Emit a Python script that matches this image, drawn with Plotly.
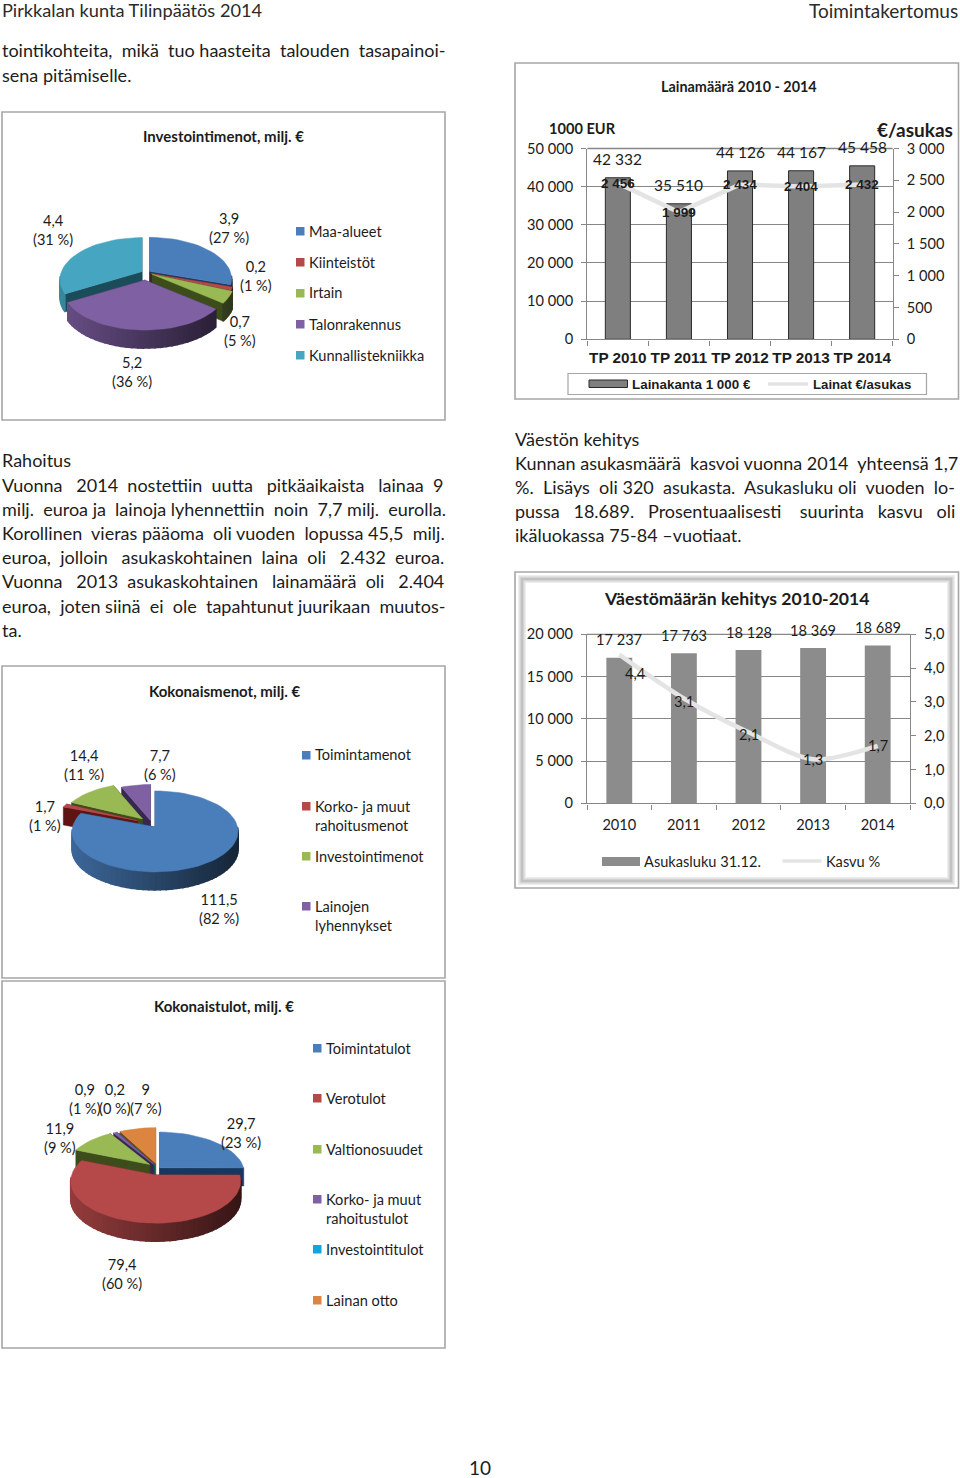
import math
import plotly.graph_objects as go

W, H = 960, 1478
FONT = "Lato"
ARIAL = "Liberation Sans"
INK = "#1c1c1c"

# ---- data -------------------------------------------------------------
loan_cats = ["TP 2010", "TP 2011", "TP 2012", "TP 2013", "TP 2014"]
loan_stock = [42332, 35510, 44126, 44167, 45458]
loan_per_capita = [2456, 1999, 2434, 2404, 2432]
loan_left_ticks = [0, 10000, 20000, 30000, 40000, 50000]
loan_left_text = ["0", "10 000", "20 000", "30 000", "40 000", "50 000"]
loan_right_ticks = [0, 500, 1000, 1500, 2000, 2500, 3000]
loan_right_text = ["0", "500", "1 000", "1 500", "2 000", "2 500", "3 000"]

pop_cats = ["2010", "2011", "2012", "2013", "2014"]
pop_count = [17237, 17763, 18128, 18369, 18689]
pop_growth = [4.4, 3.1, 2.1, 1.3, 1.7]
pop_left_ticks = [0, 5000, 10000, 15000, 20000]
pop_left_text = ["0", "5 000", "10 000", "15 000", "20 000"]
pop_right_ticks = [0, 1, 2, 3, 4, 5]
pop_right_text = ["0,0", "1,0", "2,0", "3,0", "4,0", "5,0"]

inv_names = ["Maa-alueet", "Kiinteistöt", "Irtain", "Talonrakennus", "Kunnallistekniikka"]
inv_values = [3.9, 0.2, 0.7, 5.2, 4.4]
inv_pct = [27, 1, 5, 36, 31]
exp_names = ["Toimintamenot", "Korko- ja muut<br>rahoitusmenot", "Investointimenot", "Lainojen<br>lyhennykset"]
exp_values = [111.5, 1.7, 14.4, 7.7]
exp_pct = [82, 1, 11, 6]
inc_names = ["Toimintatulot", "Verotulot", "Valtionosuudet", "Korko- ja muut<br>rahoitustulot", "Investointitulot", "Lainan otto"]
inc_values = [29.7, 79.4, 11.9, 0.9, 0.2, 9]
inc_pct = [23, 60, 9, 1, 0, 7]

BLUE, RED, GREEN, PURPLE, TEAL = "#4A7EBB", "#B5494A", "#98B954", "#7F60A3", "#46A5C0"
CYAN, ORANGE = "#0FA8DC", "#DB8540"
DARK = {BLUE: "#17375E", RED: "#5E1412", GREEN: "#3C4D1B", PURPLE: "#38284F",
        TEAL: "#1B4C5A", CYAN: "#0A4E66", ORANGE: "#7A4312"}

fig = go.Figure()
annotations, shapes = [], []


def px(x):
    return x / W


def py(y):
    return 1 - y / H


def text(x, y, s, size=14.6, bold=False, anchor="left", family=FONT, color=INK):
    if bold:
        s = "<b>" + s + "</b>"
    annotations.append(dict(xref="paper", yref="paper", x=px(x), y=py(y), text=s, showarrow=False,
                            xanchor=anchor, yanchor="middle", align=anchor, borderpad=0, borderwidth=0,
                            font=dict(family=family, size=size, color=color)))


def justify(s, extra):
    """Widen word gaps with extra non-breaking spaces, evenly spread."""
    words = s.split(" ")
    gaps = len(words) - 1
    out = words[0]
    done = 0
    for i in range(gaps):
        want = round(extra * (i + 1) / gaps)
        out += " " + "\u00a0" * (want - done) + words[i + 1]
        done = want
    return out


def rect(x0, y0, x1, y1, line="#A6A6A6", width=1.6, fill="rgba(0,0,0,0)"):
    shapes.append(dict(type="rect", xref="paper", yref="paper", x0=px(x0), x1=px(x1), y0=py(y0), y1=py(y1),
                       line=dict(color=line, width=width), fillcolor=fill, layer="below"))


def hline(x0, x1, y, color, width, layer="above"):
    shapes.append(dict(type="line", xref="paper", yref="paper", x0=px(x0), x1=px(x1), y0=py(y), y1=py(y),
                       line=dict(color=color, width=width), layer=layer))


def shade(hex_color, f):
    r, g, b = int(hex_color[1:3], 16), int(hex_color[3:5], 16), int(hex_color[5:7], 16)
    return "rgb(%d,%d,%d)" % (r * f, g * f, b * f)


def poly(xs, ys, color, axis_id, lw=0.5):
    fig.add_trace(go.Scatter(x=xs, y=ys, mode="lines", fill="toself", fillcolor=color,
                             line=dict(color=color, width=lw), hoverinfo="skip", showlegend=False,
                             xaxis="x" + axis_id, yaxis="y" + axis_id))


def pie3d(axis_id, values, colors, explode, cx, cy, a, b, depth, lift, box):
    """Extruded, exploded elliptical pie, in an axis pair scaled to unit radius."""
    x0, y0, x1, y1 = box
    fig.layout["xaxis" + axis_id] = dict(domain=[px(x0), px(x1)], range=[(x0 - cx) / a, (x1 - cx) / a],
                                         visible=False, fixedrange=True, automargin=False)
    fig.layout["yaxis" + axis_id] = dict(domain=[py(y1), py(y0)], range=[(cy - y1) / b, (cy - y0) / b],
                                         visible=False, fixedrange=True, automargin=False)
    total = sum(values)
    d = depth / b
    slices, acc = [], 0.0
    for i, v in enumerate(values):
        t0 = acc / total * 2 * math.pi
        acc += v
        t1 = acc / total * 2 * math.pi
        slices.append((t0, t1, colors[i], explode[i]))
    slices.sort(key=lambda s: -math.cos((s[0] + s[1]) / 2))
    for t0, t1, col, e in slices:
        mid = (t0 + t1) / 2
        ox, oy = e * math.sin(mid), e * math.cos(mid)
        ax, ay = ox, oy + lift
        n = max(3, int((t1 - t0) / math.radians(4)))
        arc = [t0 + (t1 - t0) * k / n for k in range(n + 1)]
        ex = [ox + math.sin(t) for t in arc]
        ey = [oy + math.cos(t) for t in arc]
        for px_, py_ in ((ex[0], ey[0]), (ex[-1], ey[-1])):
            poly([ax, px_, px_, ax, ax], [ay, py_, py_ - d, ay - d, ay], DARK[col], axis_id)
        for k in range(n):
            tm = (arc[k] + arc[k + 1]) / 2
            if math.cos(tm) < 0.08:
                xs = ex[k:k + 2]
                ys = ey[k:k + 2]
                xw = xs + xs[::-1] + [xs[0]]
                yw = ys + [v - d for v in ys[::-1]] + [ys[0]]
                f = 0.56 - 0.26 * math.sin(tm)
                poly(xw, yw, shade(col, f), axis_id, lw=1.5)
        poly([ax] + ex + [ax], [ay] + ey + [ay], col, axis_id)


def pie_labels(values, pct, places):
    for v, p, (x, y) in zip(values, pct, places):
        s = ("%g" % v).replace(".", ",")
        text(x, y, "%s<br>(%d %%)" % (s, p), anchor="center")


def pie_legend(names, colors, sx, tx, ys):
    for n, c, y in zip(names, colors, ys):
        shapes.append(dict(type="rect", xref="paper", yref="paper", x0=px(sx), x1=px(sx + 8.5), y0=py(y - 4), y1=py(y + 4.5),
                           line=dict(width=0), fillcolor=c, layer="below"))
        lines = n.count("<br>")
        text(tx, y + lines * 9.6, n)


# ---- page text --------------------------------------------------------
BODY = 18
text(2, 10, "Pirkkalan kunta Tilinpäätös 2014", size=18.2, color="#2a2a2a")
text(958, 10, "Toimintakertomus", size=19, anchor="right", color="#2a2a2a")
for y, s, k in [(50.5, "tointikohteita, mikä tuo haasteita talouden tasapainoi-", 4), (75, "sena pitämiselle.", 0)]:
    text(2, y, justify(s, k), size=BODY)
left_lines = ["Rahoitus",
              "Vuonna 2014 nostettiin uutta pitkäaikaista lainaa 9",
              "milj. euroa ja lainoja lyhennettiin noin 7,7 milj. eurolla.",
              "Korollinen vieras pääoma oli vuoden lopussa 45,5 milj.",
              "euroa, jolloin asukaskohtainen laina oli 2.432 euroa.",
              "Vuonna 2013 asukaskohtainen lainamäärä oli 2.404",
              "euroa, joten siinä ei ole tapahtunut juurikaan muutos-",
              "ta."]
left_extra = [0, 9, 5, 4, 8, 8, 5, 0]
for i, s in enumerate(left_lines):
    text(2, 460.3 + i * 24.2, justify(s, left_extra[i]) if left_extra[i] else s, size=BODY)
right_lines = ["Väestön kehitys",
               "Kunnan asukasmäärä kasvoi vuonna 2014 yhteensä 1,7",
               "%. Lisäys oli 320 asukasta. Asukasluku oli vuoden lo-",
               "pussa 18.689. Prosentuaalisesti suurinta kasvu oli",
               "ikäluokassa 75-84 –vuotiaat."]
right_extra = [0, 2, 6, 11, 0]
for i, s in enumerate(right_lines):
    text(515, 438.5 + i * 24.2, justify(s, right_extra[i]) if right_extra[i] else s, size=BODY)
text(480, 1467, "10", size=19, anchor="center")

# ---- frames -----------------------------------------------------------
rect(2, 112, 445, 420)
rect(2, 666, 445, 978)
rect(2, 981, 445, 1348)
rect(515, 63, 958.5, 399)
rect(515, 572, 958.5, 888)
rect(522, 579, 951, 881, line="#ECECEC", width=8)
rect(522, 579, 951, 881, line="#D8D8D8", width=5)
rect(522, 579, 951, 881, line="#C2C2C2", width=2.5)

# ---- pies -------------------------------------------------------------
inv_colors = [BLUE, RED, GREEN, PURPLE, TEAL]
pie3d("5", inv_values, inv_colors, [0.06, 0.06, 0.08, 0.17, 0.06], 146, 281, 82, 42, 18, 0.19, (40, 225, 250, 360))
text(223, 136, "Investointimenot, milj. €", size=15, bold=True, anchor="center")
pie_labels(inv_values, inv_pct, [(229, 228), (256, 276), (240, 331), (132, 372), (53, 230)])
pie_legend(inv_names, inv_colors, 296, 309, [231, 262, 293, 324, 355])

exp_colors = [BLUE, RED, GREEN, PURPLE]
pie3d("6", exp_values, exp_colors, [0.07, 0.2, 0.18, 0.1], 152, 829, 83, 40.5, 18, 0.11, (40, 770, 260, 900))
text(224.5, 691, "Kokonaismenot, milj. €", size=15, bold=True, anchor="center")
pie_labels(exp_values, exp_pct, [(219, 909), (45, 816), (84, 765), (160, 765)])
pie_legend(exp_names, exp_colors, 302, 315, [755, 806, 856, 906])

inc_colors = [BLUE, RED, GREEN, PURPLE, CYAN, ORANGE]
pie3d("7", inc_values, inc_colors, [0.03, 0.15, 0.14, 0.13, 0.1, 0.13], 158, 1175, 85, 42, 18, 0.15, (50, 1110, 260, 1250))
text(224, 1006, "Kokonaistulot, milj. €", size=15, bold=True, anchor="center")
pie_labels(inc_values, inc_pct, [(241, 1133), (122, 1274), (60, 1138), (85, 1099), (115, 1099), (146, 1099)])
pie_legend(inc_names, inc_colors, 313, 326, [1048, 1098, 1149, 1199, 1249, 1300])

# ---- loan chart -------------------------------------------------------
AX = "#868686"
LINE = "#E4E4E4"
hline(587.3, 892.7, 148.5, AX, 1.3, layer="below")
fig.add_trace(go.Bar(x=loan_cats, y=loan_stock, width=0.41, marker=dict(color="#7F7F7F", line=dict(color="#2b2b2b", width=1)),
                     xaxis="x", yaxis="y", showlegend=False))
fig.add_trace(go.Scatter(x=loan_cats, y=loan_per_capita, mode="lines", line=dict(color=LINE, width=4.5),
                         xaxis="x", yaxis="y2", showlegend=False))
for c, v, r in zip(loan_cats, loan_stock, loan_per_capita):
    annotations.append(dict(xref="x", yref="y", x=c, y=v, yshift=18.5, showarrow=False, text=f"{v:,}".replace(",", " "),
                            font=dict(family=FONT, size=15.5, color=INK)))
    annotations.append(dict(xref="x", yref="y2", x=c, y=r, showarrow=False, text="<b>" + f"{r:,}".replace(",", " ") + "</b>",
                            font=dict(family=ARIAL, size=13.5, color=INK)))
text(582, 129, "1000 EUR", size=14.6, bold=True, anchor="center")
text(915, 129.5, "€/asukas", size=19, bold=True, anchor="center")
text(739, 86, "Lainamäärä 2010 - 2014", size=14.4, bold=True, anchor="center")
rect(568, 373.5, 926.5, 394.5, line="#A6A6A6", width=1.2)
shapes.append(dict(type="rect", xref="paper", yref="paper", x0=px(589), x1=px(627.5), y0=py(380), y1=py(387.5),
                   line=dict(color="#2b2b2b", width=1), fillcolor="#7F7F7F"))
text(631.5, 384, "Lainakanta 1 000 €", size=13.4, bold=True, family=ARIAL)
hline(768, 808, 384, LINE, 3.5)
text(812.5, 384, "Lainat €/asukas", size=13.2, bold=True, family=ARIAL)

# ---- population chart -------------------------------------------------
hline(587, 910, 634.3, AX, 1.3, layer="below")
fig.add_trace(go.Bar(x=pop_cats, y=pop_count, width=0.4, marker=dict(color="#8C8C8C", line=dict(width=0)),
                     xaxis="x2", yaxis="y3", showlegend=False))
fig.add_trace(go.Scatter(x=pop_cats, y=pop_growth, mode="lines", line=dict(color=LINE, width=4.5, shape="spline", smoothing=0.8),
                         xaxis="x2", yaxis="y4", showlegend=False))
for i, (v, g, xs, ys) in enumerate(zip(pop_count, pop_growth, [16, 0, 0, 0, 0], [-19, -3, -2, 0, 0])):
    annotations.append(dict(xref="x2", yref="y3", x=i, y=v, yshift=18, showarrow=False, text=f"{v:,}".replace(",", " "),
                            font=dict(family=FONT, size=14.6, color=INK)))
    annotations.append(dict(xref="x2", yref="y4", x=i, y=g, xshift=xs, yshift=ys, showarrow=False,
                            text=("%.1f" % g).replace(".", ","), font=dict(family=FONT, size=14.6, color=INK)))
text(737, 598.5, "Väestömäärän kehitys 2010-2014", size=17.6, bold=True, anchor="center")
shapes.append(dict(type="rect", xref="paper", yref="paper", x0=px(602), x1=px(640), y0=py(857), y1=py(866),
                   line=dict(width=0), fillcolor="#8C8C8C"))
text(644, 861, "Asukasluku 31.12.")
hline(782.5, 821.5, 861, LINE, 3.5)
text(826, 861, "Kasvu %")


def cat_axis(x0, x1, y, family, size, bold, standoff):
    return dict(domain=[px(x0), px(x1)], anchor=y, type="category", tickson="boundaries", ticks="outside", ticklen=5,
                tickcolor=AX, linecolor=AX, linewidth=1.4, showline=True, showgrid=False, tickangle=0, automargin=False,
                range=[-0.5, 4.5], ticklabelstandoff=standoff, fixedrange=True,
                tickfont=dict(family=family, size=size, color=INK, weight="bold" if bold else "normal"))


def val_axis(y0, y1, rng, ticks, labels, grid, **kw):
    d = dict(domain=[py(y1), py(y0)], range=rng, tickmode="array", tickvals=ticks, ticktext=labels, ticks="outside",
             ticklen=5, tickcolor=AX, linecolor=AX, linewidth=1.4, showline=True, showgrid=grid, gridcolor=AX, gridwidth=1.2,
             zeroline=False, fixedrange=True, automargin=False, ticklabelstandoff=5, tickfont=dict(family=FONT, size=14.6, color=INK))
    d.update(kw)
    return d


fig.update_layout(
    width=W, height=H, autosize=False, margin=dict(l=0, r=0, t=0, b=0),
    paper_bgcolor="white", plot_bgcolor="rgba(0,0,0,0)", barmode="overlay", hovermode=False,
    xaxis=cat_axis(587.3, 892.7, "y", ARIAL, 15.3, True, 4),
    yaxis=val_axis(148.5, 339.3, [0, 50000], loan_left_ticks, loan_left_text, True, anchor="x"),
    yaxis2=val_axis(148.5, 339.3, [0, 3000], loan_right_ticks, loan_right_text, False, anchor="x", overlaying="y", side="right"),
    xaxis2=cat_axis(587, 910, "y3", FONT, 14.6, False, 8),
    yaxis3=val_axis(634.3, 803.3, [0, 20000], pop_left_ticks, pop_left_text, True, anchor="x2"),
    yaxis4=val_axis(634.3, 803.3, [0, 5], pop_right_ticks, pop_right_text, False, anchor="x2", overlaying="y3", side="right"),
    annotations=annotations, shapes=shapes,
)

fig.write_html("out.html", config={"displayModeBar": False},
               post_script="document.body.style.margin='0';document.documentElement.style.overflow='hidden';")
